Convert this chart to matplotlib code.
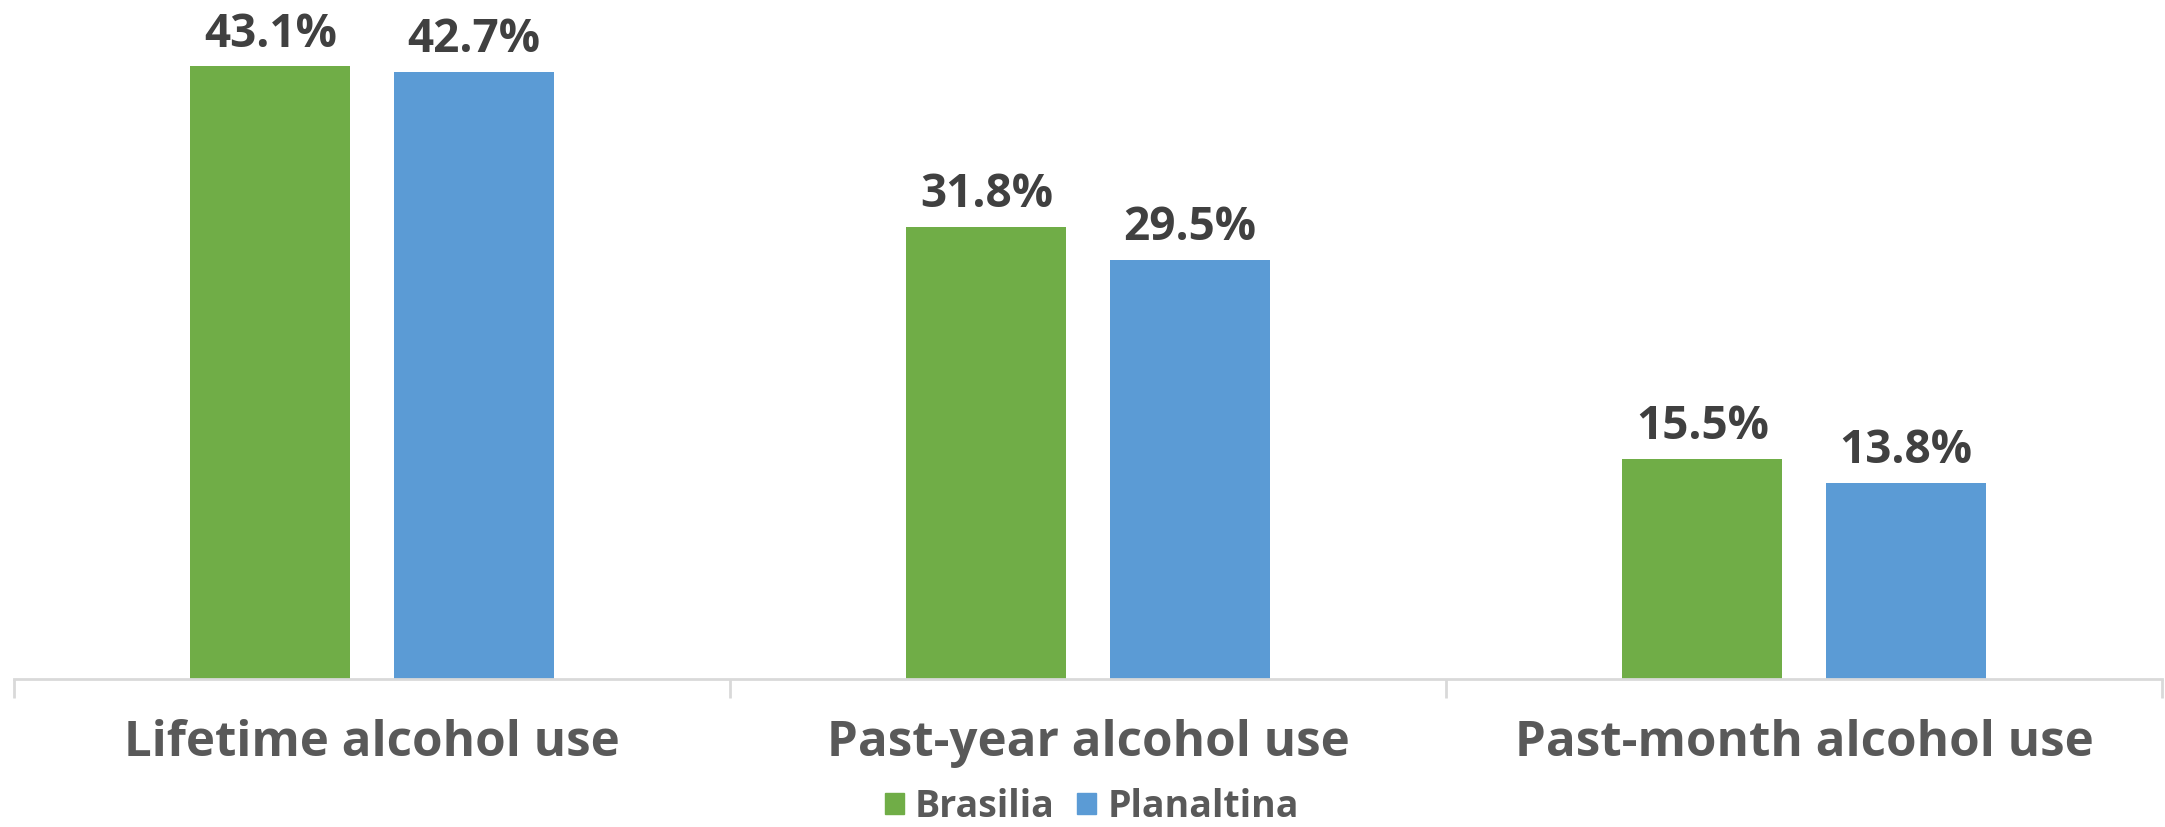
import matplotlib.pyplot as plt
import numpy as np
from matplotlib.patches import Patch

# datos
categories = ['Lifetime alcohol use', 'Past-year alcohol use', 'Past-month alcohol use']
series_names = ['Brasilia', 'Planaltina']
brasilia = [43.1, 31.8, 15.5]
planaltina = [42.7, 29.5, 13.8]
colors = ['#70AD47', '#5B9BD5']

plt.rcParams['font.family'] = ['Open Sans', 'DejaVu Sans']

fig = plt.figure(figsize=(21.65, 8.27), dpi=100)
ax = fig.add_axes([14 / 2165, 1 - 679 / 827, 2148 / 2165, 679 / 827])

x = np.arange(len(categories))
w = 0.2235
off = 0.142

b1 = ax.bar(x - off, brasilia, w, color=colors[0])
b2 = ax.bar(x + off, planaltina, w, color=colors[1])

for bars, vals in [(b1, brasilia), (b2, planaltina)]:
    for r, v in zip(bars, vals):
        ax.annotate(f'{v}%', (r.get_x() + r.get_width() / 2, v),
                    xytext=(0, 6), textcoords='offset points',
                    ha='center', va='bottom', fontsize=33, fontweight='bold', color='#404040')

ax.set_xlim(-0.5, 2.5)
ax.set_ylim(0, 47.75)
ax.set_yticks([])
for s in ['top', 'right', 'left']:
    ax.spines[s].set_visible(False)
ax.spines['bottom'].set_color('#D9D9D9')
ax.spines['bottom'].set_linewidth(2)

# separadores entre categorias
ax.set_xticks([-0.5, 0.5, 1.5, 2.5], minor=True)
ax.tick_params(axis='x', which='minor', length=14, width=2, color='#D9D9D9')
ax.set_xticks(x)
ax.set_xticklabels(categories, fontsize=35.5, fontweight='bold', color='#595959')
ax.tick_params(axis='x', which='major', length=0, pad=29)

handles = [Patch(color=c, label=n) for c, n in zip(colors, series_names)]
fig.legend(handles=handles, loc='center', bbox_to_anchor=(1092 / 2165, 1 - 807 / 827),
           ncol=2, frameon=False, handlelength=0.5, handleheight=0.5,
           handletextpad=0.3, columnspacing=0.6, labelcolor='#595959',
           prop={'weight': 'bold', 'size': 27})

fig.savefig('out.png', dpi=100)
